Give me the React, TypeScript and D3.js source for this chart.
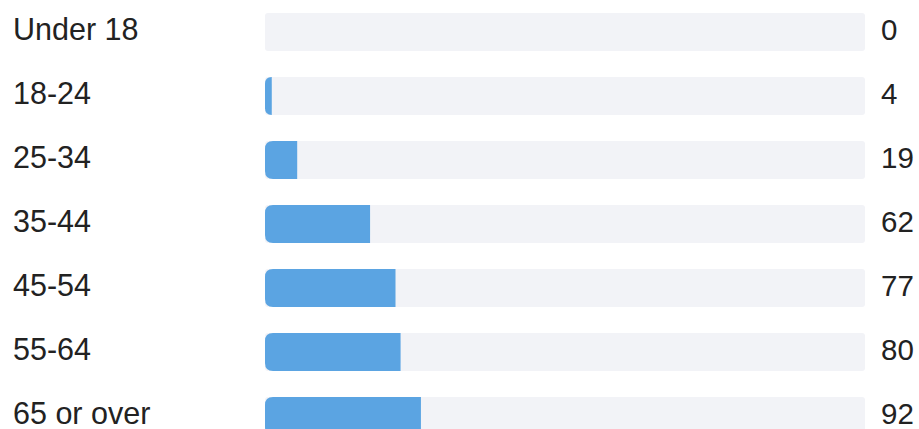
import React from "react";
import * as d3 from "d3";

const categories = ["Under 18", "18-24", "25-34", "35-44", "45-54", "55-64", "65 or over"];
const counts = [0, 4, 19, 62, 77, 80, 92];
const scaleMax = 354;

const W = 919;
const H = 429;
const trackX0 = 265;
const trackX1 = 865;
const barH = 38;
const radius = 8;

function leftRoundedBar(x0: number, x1: number, yc: number, h: number, r: number) {
  const p = d3.path();
  const y0 = yc - h / 2;
  const y1 = yc + h / 2;
  const rr = Math.min(r, Math.max(0, x1 - x0));
  p.moveTo(x1, y0);
  p.lineTo(x0 + rr, y0);
  p.quadraticCurveTo(x0, y0, x0, y0 + rr);
  p.lineTo(x0, y1 - rr);
  p.quadraticCurveTo(x0, y1, x0 + rr, y1);
  p.lineTo(x1, y1);
  p.closePath();
  return p.toString();
}

export default function App() {
  const x = d3.scaleLinear().domain([0, scaleMax]).range([trackX0, trackX1]);
  const y = d3.scalePoint<string>().domain(categories).range([32, 416]);
  const font = "'Liberation Sans', Arial, sans-serif";
  return (
    <svg
      width={W}
      height={H}
      style={{ position: "absolute", left: 0, top: 0, background: "#ffffff" }}
    >
      {categories.map((c, i) => {
        const yc = y(c) as number;
        const v = counts[i];
        const xe = Math.max(x(v), v > 0 ? trackX0 + 4 : trackX0);
        return (
          <g key={c}>
            <text x={13} y={yc + 8} fontFamily={font} fontSize={30.5} fill="#222222">
              {c}
            </text>
            <rect
              x={trackX0}
              y={yc - barH / 2}
              width={trackX1 - trackX0}
              height={barH}
              rx={3}
              fill="#f2f3f7"
            />
            {v > 0 && (
              <path d={leftRoundedBar(trackX0, xe, yc, barH, radius)} fill="#5ba4e2" />
            )}
            <text x={881} y={yc + 8} fontFamily={font} fontSize={29.5} fill="#222222">
              {v}
            </text>
          </g>
        );
      })}
    </svg>
  );
}
